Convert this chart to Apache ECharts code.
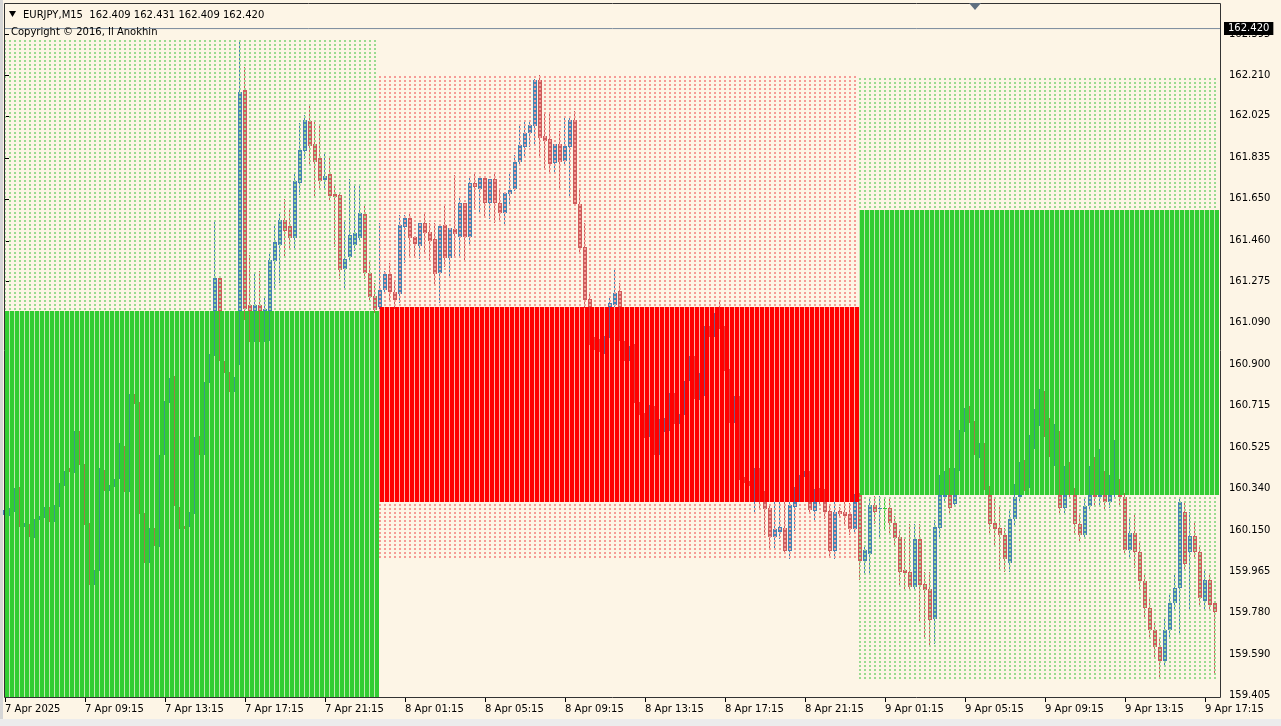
<!DOCTYPE html>
<html><head><meta charset="utf-8">
<script src="https://cdn.jsdelivr.net/npm/echarts@6/dist/echarts.min.js"></script>
<style>html,body{margin:0;padding:0;background:#FDF5E6;}#c{width:1281px;height:726px;}</style>
</head><body><div id="c"></div>
<script>
// ---- data (EURJPY M15, bar 0 = 7 Apr 05:15) ----
const opens=[
160.22,160.22,160.245,160.33,160.17,160.175,160.13,160.198,160.21,160.25,
160.19,160.26,160.355,160.425,160.416,160.59,160.45,160.18,159.91,159.97,
160.42,160.335,160.35,160.382,160.53,160.33,160.76,160.73,160.228,160.01,
160.155,160.085,160.49,160.73,160.835,160.255,160.168,160.168,160.23,160.565,
160.49,160.82,160.95,161.291,160.91,160.86,160.79,160.92,162.14,161.17,
161.14,161.17,161.12,161.05,161.369,161.443,161.554,161.527,161.472,161.721,
161.865,162.002,161.897,161.836,161.735,161.76,161.671,161.665,161.332,161.388,
161.439,161.472,161.583,161.312,161.209,161.161,161.237,161.308,161.228,161.219,
161.524,161.564,161.479,161.438,161.542,161.501,161.468,161.316,161.531,161.383,
161.513,161.479,161.63,161.479,161.72,161.693,161.745,161.633,161.74,161.633,
161.587,161.672,161.693,161.815,161.886,161.949,161.981,162.187,161.934,161.92,
161.813,161.898,161.822,161.883,162.006,161.626,161.433,161.195,161.02,160.99,
160.96,161.03,161.17,161.233,161.0,160.93,160.97,160.73,160.68,160.58,
160.7,160.5,160.62,160.64,160.76,160.64,160.68,160.83,160.93,160.76,
160.84,161.06,161.03,161.12,161.07,160.88,160.66,160.75,160.39,160.37,
160.36,160.42,160.294,160.251,160.118,160.142,160.161,160.056,160.255,160.28,
160.395,160.41,160.239,160.3,160.284,160.239,160.056,160.239,160.235,160.226,
160.154,160.313,160.011,160.044,160.265,160.245,160.25,160.251,160.181,160.122,
159.972,159.963,159.895,160.109,159.908,159.885,159.749,160.161,160.3,160.4,
160.27,160.43,160.6,160.69,160.64,160.49,160.53,160.337,160.181,160.161,
160.128,160.0,160.2,160.3,160.42,160.36,160.55,160.66,160.75,160.62,
160.52,160.58,160.25,160.4,160.32,160.18,160.13,160.26,160.4,160.3,
160.38,160.28,160.32,160.34,160.3,160.06,160.14,160.05,159.92,159.8,
159.7,159.62,159.56,159.7,159.82,159.89,160.232,160.053,160.126,160.053,
159.831,159.926,159.82];
const highs=[
160.26,160.251,160.342,160.348,160.181,160.177,160.2,160.216,160.255,160.255,
160.264,160.362,160.42,160.43,160.601,160.601,160.45,160.181,159.972,160.434,
160.424,160.356,160.381,160.547,160.531,160.765,160.765,160.732,160.229,160.161,
160.161,160.492,160.736,160.839,160.849,160.255,160.171,160.235,160.57,160.576,
160.823,160.946,161.55,161.3,160.917,160.868,160.843,162.368,162.245,161.396,
161.319,161.325,161.201,161.4,161.536,161.579,161.647,161.602,161.764,161.992,
162.027,162.07,162.004,161.978,161.862,161.836,161.719,161.671,161.554,161.741,
161.719,161.71,161.622,161.369,161.268,161.539,161.325,161.358,161.273,161.576,
161.577,161.592,161.479,161.542,161.592,161.542,161.542,161.527,161.627,161.519,
161.758,161.663,161.63,161.743,161.768,161.745,161.745,161.74,161.765,161.698,
161.678,161.765,161.848,161.98,162.001,162.008,162.19,162.21,162.033,162.033,
161.898,161.958,162.018,162.024,162.048,161.696,161.542,161.22,161.024,161.014,
161.03,161.205,161.336,161.271,161.005,160.985,160.991,160.732,160.683,160.718,
160.712,160.654,160.66,160.771,160.771,160.677,160.824,160.937,160.937,160.86,
161.073,161.073,161.135,161.19,161.073,160.88,160.757,160.757,160.391,160.372,
160.434,160.434,160.33,160.27,160.278,160.278,160.278,160.278,160.348,160.401,
160.42,160.42,160.337,160.34,160.337,160.259,160.278,160.255,160.278,160.274,
160.313,160.32,160.083,160.3,160.304,160.304,160.3,160.294,160.216,160.148,
160.109,160.177,160.177,160.177,159.963,159.963,160.196,160.4,160.42,160.43,
160.434,160.605,160.703,160.713,160.644,160.543,160.547,160.352,160.294,160.255,
160.16,160.24,160.36,160.46,160.47,160.58,160.7,160.79,160.78,160.66,
160.63,160.6,160.44,160.46,160.34,160.22,160.3,160.44,160.48,160.52,
160.42,160.4,160.56,160.38,160.32,160.2,160.22,160.1,159.95,159.85,
159.74,159.66,159.75,159.86,159.95,160.3,160.278,160.232,160.19,160.08,
159.968,159.95,159.83];
const lows=[
160.2,160.216,160.235,160.167,160.167,160.122,160.115,160.196,160.206,160.187,
160.187,160.255,160.352,160.414,160.411,160.446,160.173,159.904,159.904,159.967,
160.329,160.329,160.348,160.381,160.323,160.323,160.722,160.226,160.002,160.002,
160.08,160.076,160.489,160.726,160.259,160.157,160.157,160.167,160.226,160.489,
160.489,160.816,160.94,160.917,160.863,160.777,160.777,160.898,161.1,161.003,
161.003,161.003,161.003,161.005,161.238,161.271,161.384,161.419,161.419,161.667,
161.828,161.797,161.657,161.7,161.7,161.638,161.433,161.287,161.244,161.365,
161.414,161.453,161.287,161.19,161.135,161.15,161.221,161.192,161.153,161.18,
161.358,161.388,161.388,161.376,161.411,161.369,161.263,161.18,161.343,161.302,
161.388,161.388,161.369,161.444,161.599,161.587,161.566,161.557,161.539,161.548,
161.527,161.622,161.683,161.798,161.84,161.886,161.889,161.838,161.783,161.765,
161.762,161.692,161.798,161.66,161.62,161.404,161.154,160.99,160.966,160.956,
160.946,161.018,161.16,161.005,160.917,160.917,160.726,160.674,160.566,160.57,
160.489,160.489,160.596,160.601,160.629,160.629,160.674,160.824,160.742,160.74,
160.757,161.024,161.024,161.063,160.872,160.635,160.635,160.376,160.362,160.352,
160.235,160.245,160.128,160.06,160.07,160.109,160.044,160.021,160.148,160.278,
160.391,160.235,160.197,160.27,160.2,160.025,160.021,160.206,160.177,160.128,
160.134,159.924,159.959,159.959,160.177,160.119,160.15,160.138,160.08,159.904,
159.875,159.875,159.875,159.729,159.667,159.632,159.636,160.12,160.274,160.226,
160.264,160.42,160.596,160.635,160.489,160.479,160.333,160.138,160.083,159.972,
159.963,159.96,160.17,160.28,160.33,160.34,160.52,160.62,160.57,160.48,
160.44,160.22,160.22,160.29,160.14,160.1,160.11,160.24,160.26,160.26,
160.24,160.25,160.29,160.26,160.04,160.03,159.98,159.88,159.76,159.66,
159.57,159.48,159.53,159.66,159.79,159.684,159.968,159.789,160.02,159.81,
159.789,159.789,159.505];
const closes=[
160.24,160.245,160.33,160.175,160.178,160.13,160.19,160.21,160.25,160.19,
160.26,160.355,160.415,160.416,160.59,160.45,160.18,159.91,159.965,160.425,
160.335,160.35,160.378,160.54,160.33,160.76,160.73,160.23,160.01,160.155,
160.085,160.485,160.73,160.835,160.26,160.16,160.16,160.23,160.565,160.49,
160.82,160.94,161.291,160.93,160.87,160.79,160.83,162.134,161.153,161.14,
161.17,161.14,161.15,161.375,161.456,161.554,161.505,161.472,161.729,161.871,
162.008,161.891,161.817,161.731,161.754,161.663,161.657,161.326,161.379,161.488,
161.497,161.585,161.312,161.205,161.145,161.236,161.308,161.227,161.194,161.531,
161.564,161.474,161.444,161.542,161.497,161.461,161.308,161.527,161.383,161.519,
161.491,161.63,161.479,161.72,161.705,161.745,161.633,161.74,161.633,161.587,
161.678,161.69,161.818,161.893,161.949,161.984,162.187,161.923,161.913,161.806,
161.898,161.818,161.889,162.006,161.626,161.426,161.192,161.01,160.98,160.96,
161.02,161.18,161.225,161.02,160.93,160.97,160.74,160.69,160.58,160.7,
160.5,160.64,160.65,160.76,160.64,160.67,160.82,160.93,160.76,160.84,
161.06,161.03,161.12,161.07,160.88,160.66,160.75,160.39,160.37,160.355,
160.42,160.3,160.245,160.118,160.154,160.167,160.056,160.265,160.278,160.39,
160.41,160.24,160.278,160.285,160.235,160.056,160.235,160.226,160.216,160.154,
160.278,160.011,160.06,160.265,160.235,160.252,160.25,160.181,160.115,159.963,
159.959,159.895,160.109,159.904,159.879,159.745,160.167,160.36,160.4,160.25,
160.42,160.59,160.69,160.65,160.5,160.53,160.34,160.177,160.154,160.128,
160.02,160.2,160.3,160.42,160.36,160.55,160.66,160.75,160.62,160.52,
160.58,160.25,160.4,160.32,160.18,160.13,160.26,160.4,160.3,160.38,
160.28,160.32,160.34,160.3,160.06,160.14,160.05,159.92,159.8,159.7,
159.62,159.56,159.7,159.82,159.89,160.278,159.999,160.126,160.053,159.842,
159.926,159.81,159.78];

// daily boxes (indicator)
const dayStart=[0,75,171];
const dayEnd=[74,170,242];
const dayOpen=[159.30,161.160,160.308];
const dayHigh=[162.368,162.206,162.196];
const dayLow=[159.20,160.027,159.476];
const dayClose=[161.142,160.280,161.599];

// axis ticks
const xTickIndex=[0,16,32,48,64,80,96,112,128,144,160,176,192,208,224,240];
const xTickLabels=['7 Apr 2025','7 Apr 09:15','7 Apr 13:15','7 Apr 17:15','7 Apr 21:15','8 Apr 01:15','8 Apr 05:15','8 Apr 09:15','8 Apr 13:15','8 Apr 17:15','8 Apr 21:15','9 Apr 01:15','9 Apr 05:15','9 Apr 09:15','9 Apr 13:15','9 Apr 17:15'];
const yTicks=[159.405,159.590,159.780,159.965,160.150,160.340,160.525,160.715,160.900,161.090,161.275,161.460,161.650,161.835,162.025,162.210,162.395];
const bidPrice=162.420;
const headerText='EURJPY,M15  162.409 162.431 162.409 162.420';
const copyrightText='Copyright \u00A9 2016, Il Anokhin';

// ---- build ----
const N=Math.min(opens.length,highs.length,lows.length,closes.length);
const candleData=[];
for(let i=0;i<N;i++) candleData.push([i,opens[i],closes[i],lows[i],highs[i]]);
const boxData=[];
for(let d=0;d<dayStart.length;d++){
  for(let i=dayStart[d];i<=dayEnd[d];i++) boxData.push([i,dayOpen[d],dayHigh[d],dayLow[d],dayClose[d]]);
}
const FONT='DejaVu Sans';
const BULL='#4682B4', BEAR='#CD5C5C', DOJI='#32CD32';

function renderCandle(params, api){
  const i=api.value(0), o=api.value(1), c=api.value(2), l=api.value(3), h=api.value(4);
  const xc=Math.round(api.coord([i,o])[0]);
  const yo=Math.round(api.coord([i,o])[1]);
  const yc=Math.round(api.coord([i,c])[1]);
  const yl=Math.round(api.coord([i,l])[1]);
  const yh=Math.round(api.coord([i,h])[1]);
  const col = c>o?BULL:(c<o?BEAR:DOJI);
  return {type:'group',children:[
    {type:'rect',shape:{x:xc-1,y:yh,width:1,height:Math.max(1,yl-yh)},style:{fill:col}},
    {type:'rect',shape:{x:xc-2,y:Math.min(yo,yc),width:4,height:Math.max(1,Math.abs(yo-yc))},style:{fill:col}}
  ]};
}
function renderBox(params, api){
  const cs=params.coordSys;
  const top=cs.y, bot=cs.y+cs.height;
  const cl=y=>Math.round(Math.max(top,Math.min(bot,y)));
  const i=api.value(0), o=api.value(1), h=api.value(2), l=api.value(3), c=api.value(4);
  const xc=Math.round(api.coord([i,o])[0]);
  const yH=cl(api.coord([i,h])[1]);
  const yT=cl(api.coord([i,Math.max(o,c)])[1]);
  const yB=cl(api.coord([i,Math.min(o,c)])[1]);
  const yL=cl(api.coord([i,l])[1]);
  const bull=c>=o;
  const solid=bull?'#32CD32':'#FF0000';
  const gap=bull?'rgba(50,205,50,0.30)':'rgba(255,0,0,0.28)';
  const dot=bull?'#9adb90':'#f59c96';
  const ch=[];
  if(yB>yT){
    ch.push({type:'rect',shape:{x:xc,y:yT,width:4,height:yB-yT},style:{fill:solid}});
    ch.push({type:'rect',shape:{x:xc-1,y:yT,width:1,height:yB-yT},style:{fill:gap}});
  }
  if(yT>yH) ch.push({type:'line',shape:{x1:xc,y1:yH,x2:xc,y2:yT},style:{stroke:dot,lineWidth:2,lineDash:[2,2]}});
  if(yL>yB) ch.push({type:'line',shape:{x1:xc,y1:yB+2,x2:xc,y2:yL},style:{stroke:dot,lineWidth:2,lineDash:[2,2]}});
  return {type:'group',children:ch};
}

const chart=echarts.init(document.getElementById('c'),null,{renderer:'canvas'});
chart.setOption({
  animation:false,
  backgroundColor:'#FDF5E6',
  textStyle:{fontFamily:FONT},
  grid:{left:4,top:28,width:1217,height:669,containLabel:false},
  xAxis:{type:'value',min:-0.2,max:243.2,
    axisLine:{show:false},splitLine:{show:false},
    axisTick:{show:true,customValues:xTickIndex,length:5,lineStyle:{color:'#000',width:1}},
    axisLabel:{customValues:xTickIndex,formatter:v=>{const k=xTickIndex.indexOf(Math.round(v));return k>=0?xTickLabels[k]:'';},
      align:'left',margin:7,color:'#000',fontFamily:FONT,fontSize:10}},
  yAxis:{type:'value',position:'right',min:159.396,max:162.4226,scale:true,
    axisLine:{show:false},splitLine:{show:false},
    axisTick:{show:true,customValues:yTicks,length:4,lineStyle:{color:'#000',width:1}},
    axisLabel:{customValues:yTicks,formatter:v=>Number(v).toFixed(3),margin:8,color:'#000',fontFamily:FONT,fontSize:10}},
  series:[
    {type:'custom',name:'candles',z:2,renderItem:renderCandle,data:candleData,encode:{x:0,y:[1,2,3,4]},silent:true},
    {type:'custom',name:'boxes',z:3,renderItem:renderBox,data:boxData,encode:{x:0,y:[1,2,3,4]},silent:true},
    {type:'line',name:'bid',z:5,symbol:'none',silent:true,
      data:[[-0.2,bidPrice],[243.2,bidPrice]],
      lineStyle:{color:'#7a8a9c',width:1},
      endLabel:{show:true,formatter:bidPrice.toFixed(3),backgroundColor:'#000',color:'#fff',
        fontFamily:FONT,fontSize:10,padding:[2,4,1,4],distance:3}}
  ],
  graphic:[
    {type:'rect',z:100,shape:{x:0,y:0,width:3,height:726},style:{fill:'#d6d6d6'},silent:true},
    {type:'rect',z:100,shape:{x:0,y:719,width:1281,height:7},style:{fill:'#ececec'},silent:true},
    {type:'rect',z:100,shape:{x:4.5,y:3.5,width:1216,height:694},style:{fill:'none',stroke:'#333',lineWidth:1},silent:true},
    {type:'polygon',z:100,shape:{points:[[9,11],[16,11],[12.5,17]]},style:{fill:'#000'},silent:true},
    {type:'text',z:100,x:23,y:15,style:{text:headerText,fill:'#000',font:'10px "DejaVu Sans"',textVerticalAlign:'middle'},silent:true},
    {type:'text',z:100,x:11,y:32,style:{text:copyrightText,fill:'#000',font:'10px "DejaVu Sans"',textVerticalAlign:'middle'},silent:true},
    {type:'polygon',z:100,shape:{points:[[969,3],[981,3],[975,10]]},style:{fill:'#5f6f80'},silent:true}
  ]
});
</script></body></html>
